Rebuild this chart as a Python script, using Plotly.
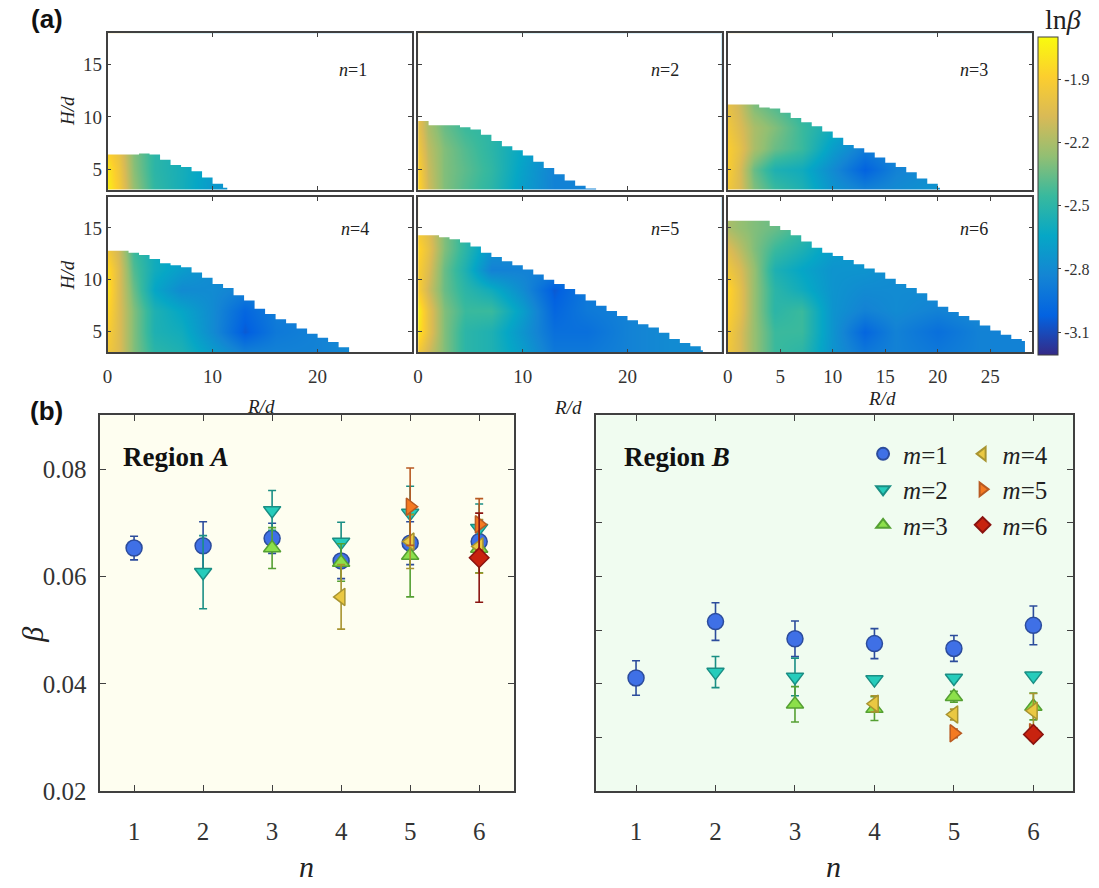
import plotly.graph_objects as go

W, H = 1099, 888
SERIF = "Liberation Serif, Times New Roman, serif"
FRAME = "#404040"

def fx(p):
    return p / W

def fy(p):
    return 1 - p / H

# ---------------- (a) heat maps: ln(beta) over (R/d, H/d) ----------------
R_NODES = [0, 1, 2.5, 4.5, 7, 10, 13, 16, 20, 24, 29]
H_NODES = [3, 5, 7, 9, 11, 13, 15, 18]

LNB_N1 = [
    [-1.75, -1.92, -2.25, -2.48, -2.58, -2.72, -2.80, -2.80, -2.80, -2.80, -2.80],
    [-1.78, -1.95, -2.28, -2.50, -2.58, -2.70, -2.80, -2.80, -2.80, -2.80, -2.80],
    [-1.90, -2.00, -2.30, -2.50, -2.58, -2.70, -2.80, -2.80, -2.80, -2.80, -2.80],
    [-1.90, -2.00, -2.30, -2.50, -2.58, -2.70, -2.80, -2.80, -2.80, -2.80, -2.80],
    [-1.90, -2.00, -2.30, -2.50, -2.58, -2.70, -2.80, -2.80, -2.80, -2.80, -2.80],
    [-1.90, -2.00, -2.30, -2.50, -2.58, -2.70, -2.80, -2.80, -2.80, -2.80, -2.80],
    [-1.90, -2.00, -2.30, -2.50, -2.58, -2.70, -2.80, -2.80, -2.80, -2.80, -2.80],
    [-1.90, -2.00, -2.30, -2.50, -2.58, -2.70, -2.80, -2.80, -2.80, -2.80, -2.80],
]
LNB_N2 = [
    [-1.85, -2.10, -2.30, -2.40, -2.50, -2.70, -2.85, -2.85, -2.85, -2.85, -2.85],
    [-1.88, -2.12, -2.30, -2.38, -2.48, -2.68, -2.85, -2.85, -2.85, -2.85, -2.85],
    [-1.95, -2.15, -2.30, -2.40, -2.50, -2.65, -2.80, -2.80, -2.80, -2.80, -2.80],
    [-2.00, -2.20, -2.35, -2.45, -2.50, -2.60, -2.75, -2.75, -2.75, -2.75, -2.75],
    [-2.00, -2.20, -2.35, -2.45, -2.50, -2.60, -2.75, -2.75, -2.75, -2.75, -2.75],
    [-2.00, -2.20, -2.35, -2.45, -2.50, -2.60, -2.75, -2.75, -2.75, -2.75, -2.75],
    [-2.00, -2.20, -2.35, -2.45, -2.50, -2.60, -2.75, -2.75, -2.75, -2.75, -2.75],
    [-2.00, -2.20, -2.35, -2.45, -2.50, -2.60, -2.75, -2.75, -2.75, -2.75, -2.75],
]
LNB_N3 = [
    [-1.95, -2.05, -2.30, -2.45, -2.55, -2.75, -2.85, -2.80, -2.75, -2.75, -2.75],
    [-1.90, -2.05, -2.35, -2.55, -2.60, -2.80, -3.02, -2.85, -2.78, -2.75, -2.75],
    [-1.90, -2.00, -2.20, -2.35, -2.45, -2.70, -2.88, -2.80, -2.75, -2.75, -2.75],
    [-1.95, -2.05, -2.20, -2.30, -2.45, -2.60, -2.75, -2.75, -2.75, -2.75, -2.75],
    [-2.00, -2.10, -2.30, -2.40, -2.50, -2.60, -2.70, -2.70, -2.70, -2.70, -2.70],
    [-2.00, -2.10, -2.30, -2.40, -2.50, -2.60, -2.70, -2.70, -2.70, -2.70, -2.70],
    [-2.00, -2.10, -2.30, -2.40, -2.50, -2.60, -2.70, -2.70, -2.70, -2.70, -2.70],
    [-2.00, -2.10, -2.30, -2.40, -2.50, -2.60, -2.70, -2.70, -2.70, -2.70, -2.70],
]
LNB_N4 = [
    [-1.95, -2.05, -2.30, -2.50, -2.55, -2.70, -2.85, -2.85, -2.85, -2.80, -2.80],
    [-1.90, -2.05, -2.30, -2.55, -2.60, -2.80, -3.05, -2.90, -2.85, -2.80, -2.80],
    [-1.85, -2.05, -2.30, -2.55, -2.65, -2.80, -3.00, -2.88, -2.85, -2.80, -2.80],
    [-1.80, -2.05, -2.35, -2.65, -2.80, -2.80, -2.85, -2.85, -2.85, -2.85, -2.85],
    [-1.82, -2.05, -2.40, -2.60, -2.70, -2.80, -2.85, -2.85, -2.85, -2.85, -2.85],
    [-1.95, -2.10, -2.45, -2.60, -2.70, -2.80, -2.85, -2.85, -2.85, -2.85, -2.85],
    [-1.95, -2.10, -2.45, -2.60, -2.70, -2.80, -2.85, -2.85, -2.85, -2.85, -2.85],
    [-1.95, -2.10, -2.45, -2.60, -2.70, -2.80, -2.85, -2.85, -2.85, -2.85, -2.85],
]
LNB_N5 = [
    [-1.95, -2.10, -2.30, -2.50, -2.55, -2.70, -2.90, -2.90, -2.85, -2.80, -2.80],
    [-1.78, -2.00, -2.30, -2.50, -2.55, -2.75, -2.95, -2.95, -2.85, -2.80, -2.80],
    [-1.75, -2.00, -2.30, -2.45, -2.45, -2.70, -3.00, -2.90, -2.85, -2.80, -2.80],
    [-1.90, -2.10, -2.35, -2.50, -2.60, -2.80, -3.05, -2.90, -2.85, -2.80, -2.80],
    [-1.90, -2.05, -2.35, -2.55, -2.85, -2.85, -2.85, -2.85, -2.85, -2.85, -2.85],
    [-1.85, -2.00, -2.30, -2.50, -2.75, -2.80, -2.80, -2.80, -2.80, -2.80, -2.80],
    [-1.95, -2.05, -2.30, -2.50, -2.70, -2.80, -2.80, -2.80, -2.80, -2.80, -2.80],
    [-1.95, -2.05, -2.30, -2.50, -2.70, -2.80, -2.80, -2.80, -2.80, -2.80, -2.80],
]
LNB_N6 = [
    [-1.95, -2.05, -2.25, -2.45, -2.50, -2.75, -2.90, -2.85, -2.90, -2.85, -2.85],
    [-1.92, -2.05, -2.25, -2.45, -2.45, -2.75, -3.00, -2.85, -2.95, -2.85, -2.85],
    [-1.88, -2.00, -2.25, -2.50, -2.45, -2.75, -2.85, -2.80, -2.85, -2.80, -2.80],
    [-1.85, -2.00, -2.25, -2.50, -2.60, -2.75, -2.80, -2.80, -2.80, -2.80, -2.80],
    [-1.95, -2.05, -2.25, -2.55, -2.65, -2.75, -2.75, -2.80, -2.80, -2.80, -2.80],
    [-2.05, -2.15, -2.30, -2.45, -2.55, -2.70, -2.75, -2.75, -2.75, -2.75, -2.75],
    [-2.20, -2.25, -2.30, -2.35, -2.45, -2.60, -2.70, -2.70, -2.70, -2.70, -2.70],
    [-2.20, -2.25, -2.30, -2.35, -2.45, -2.60, -2.70, -2.70, -2.70, -2.70, -2.70],
]

# upper edge of the measured domain (H/d max) at R/d = 0,1,2,...; and last R/d
EDGE_N1 = [6.4, 6.4, 6.4, 6.5, 6.4, 5.9, 5.4, 5.2, 4.8, 4.2, 3.6, 3.2]
END_N1 = 11.4
EDGE_N2 = [9.6, 9.2, 9.2, 9.2, 9.0, 8.8, 8.3, 7.7, 7.2, 6.8, 6.3, 5.7, 5.1, 4.5, 3.9,
           3.4, 3.15]
END_N2 = 17.0
EDGE_N3 = [11.2, 11.2, 11.2, 10.9, 10.8, 10.4, 9.9, 9.5, 9.1, 8.6, 8.0, 7.3, 7.0, 6.6,
           6.1, 5.6, 5.2, 4.7, 4.1, 3.6, 3.2]
END_N3 = 20.2
EDGE_N4 = [12.8, 12.8, 12.6, 12.4, 12.0, 11.6, 11.4, 11.2, 10.7, 10.2, 9.6, 9.2, 8.5,
           8.0, 7.2, 6.7, 6.2, 5.8, 5.3, 4.8, 4.4, 4.0, 3.5]
END_N4 = 23.0
EDGE_N5 = [14.3, 14.3, 14.1, 13.9, 13.6, 13.2, 12.6, 12.2, 11.8, 11.4, 11.0, 10.5, 10.0,
           9.6, 9.1, 8.6, 8.0, 7.5, 7.0, 6.5, 6.1, 5.7, 5.4, 4.9, 4.3, 3.9, 3.6, 3.2]
END_N5 = 27.2
EDGE_N6 = [15.7, 15.7, 15.7, 15.7, 15.2, 14.8, 14.3, 13.7, 13.1, 12.6, 12.3, 11.9, 11.5,
           11.1, 10.7, 10.1, 9.6, 9.2, 8.7, 8.0, 7.4, 6.9, 6.5, 6.1, 5.6, 5.1, 4.7, 4.3,
           4.1]
END_N6 = 28.3

PANEL_LABELS = ["n=1", "n=2", "n=3", "n=4", "n=5", "n=6"]
CB_TICKS = [-3.1, -2.8, -2.5, -2.2, -1.9]
CB_MIN, CB_MAX = -3.21, -1.70

PARULA = [[0.0, "#352a87"], [0.125, "#0363e1"], [0.25, "#1485d4"], [0.375, "#06a7c6"],
          [0.5, "#38b99e"], [0.625, "#92bf73"], [0.75, "#d9ba56"], [0.875, "#fcce2e"],
          [1.0, "#f9fb0e"]]

# ---------------- (b) beta vs n ----------------
N_VALUES = [1, 2, 3, 4, 5, 6]
M_LABELS = ["m=1", "m=2", "m=3", "m=4", "m=5", "m=6"]

# Region A: (n values, beta, error)
A_M1_N = [1, 2, 3, 4, 5, 6]
A_M1 = [0.0653, 0.0657, 0.0671, 0.0629, 0.0662, 0.0665]
A_M1_E = [0.0022, 0.0045, 0.0028, 0.0033, 0.0040, 0.0040]
A_M2_N = [2, 3, 4, 5, 6]
A_M2 = [0.0608, 0.0723, 0.0664, 0.0718, 0.0690]
A_M2_E = [0.0068, 0.0037, 0.0037, 0.0050, 0.0045]
A_M3_N = [3, 4, 5, 6]
A_M3 = [0.0653, 0.0626, 0.0639, 0.0652]
A_M3_E = [0.0038, 0.0035, 0.0077, 0.0045]
A_M4_N = [4, 5, 6]
A_M4 = [0.0562, 0.0665, 0.0656]
A_M4_E = [0.0060, 0.0050, 0.0050]
A_M5_N = [5, 6]
A_M5 = [0.0730, 0.0697]
A_M5_E = [0.0072, 0.0048]
A_M6_N = [6]
A_M6 = [0.0635]
A_M6_E = [0.0083]

# Region B
B_M1_N = [1, 2, 3, 4, 5, 6]
B_M1 = [0.0411, 0.0516, 0.0484, 0.0475, 0.0466, 0.0509]
B_M1_E = [0.0032, 0.0035, 0.0033, 0.0028, 0.0024, 0.0036]
B_M2_N = [2, 3, 4, 5, 6]
B_M2 = [0.0422, 0.0413, 0.0408, 0.0411, 0.0415]
B_M2_E = [0.0029, 0.0035, 0.0005, 0.0006, 0.0005]
B_M3_N = [3, 4, 5, 6]
B_M3 = [0.0362, 0.0354, 0.0376, 0.0358]
B_M3_E = [0.0033, 0.0022, 0.0010, 0.0025]
B_M4_N = [4, 5, 6]
B_M4 = [0.0363, 0.0343, 0.0350]
B_M4_E = [0.0015, 0.0010, 0.0032]
B_M5_N = [5, 6]
B_M5 = [0.0308, 0.0310]
B_M5_E = [0.0008, 0.0008]
B_M6_N = [6]
B_M6 = [0.0306]
B_M6_E = [0.0010]

SYMBOLS = ["circle", "triangle-down", "triangle-up", "triangle-left", "triangle-right",
           "diamond"]
FILLS = ["#3f70e6", "#26ccbb", "#8ce04a", "#eac842", "#f47a22", "#c8230f"]
EDGES = ["#2c4c9c", "#1a8e84", "#55a033", "#a89430", "#b85a22", "#8a1410"]

fig = go.Figure()

# panel geometry (pixels)
COLS = [(103, 409), (415, 720), (726, 1032)]
ROWS = [(34, 193), (200, 358)]
fields = [LNB_N1, LNB_N2, LNB_N3, LNB_N4, LNB_N5, LNB_N6]
edges = [EDGE_N1, EDGE_N2, EDGE_N3, EDGE_N4, EDGE_N5, EDGE_N6]
ends = [END_N1, END_N2, END_N3, END_N4, END_N5, END_N6]

layout = {}
for k in range(6):
    row, col = divmod(k, 3)
    ax = "" if k == 0 else str(k + 1)
    xa, ya = "x" + ax, "y" + ax
    fig.add_trace(go.Heatmap(x=R_NODES, y=H_NODES, z=fields[k], zsmooth="best",
                             coloraxis="coloraxis", xaxis=xa, yaxis=ya,
                             hoverinfo="skip"))
    # white mask above the stepped upper edge of the domain
    e = edges[k]
    mx, my = [-1.0, -1.0], [19.0, e[0]]
    for i, h in enumerate(e):
        r0 = -1.0 if i == 0 else float(i)
        r1 = float(i + 1) if i + 1 < len(e) else ends[k]
        mx += [r0, r1]
        my += [h, h]
    mx += [ends[k], 30.0, 30.0, -1.0]
    my += [2.0, 2.0, 19.0, 19.0]
    fig.add_trace(go.Scatter(x=mx, y=my, mode="lines", fill="toself",
                             fillcolor="white", line=dict(width=0, color="white"),
                             xaxis=xa, yaxis=ya, hoverinfo="skip", showlegend=False))
    x0, x1 = COLS[col]
    y0, y1 = ROWS[row]
    xt = [0, 5, 10, 15, 20, 25] if k == 5 else [0, 10, 20]
    layout["xaxis" + ax] = dict(
        domain=[fx(x0), fx(x1)], range=[0, 29], anchor=ya, tickvals=xt,
        showticklabels=(row == 1), ticks="inside", ticklen=4, tickcolor=FRAME,
        showline=True, linecolor=FRAME, linewidth=1.5, mirror="allticks",
        showgrid=False, zeroline=False, ticklabelstandoff=6,
        tickfont=dict(family=SERIF, size=19, color="#333"))
    layout["yaxis" + ax] = dict(
        domain=[fy(y1), fy(y0)], range=[3, 18], anchor=xa, tickvals=[5, 10, 15],
        showticklabels=(col == 0), ticks="inside", ticklen=4, tickcolor=FRAME,
        showline=True, linecolor=FRAME, linewidth=1.5, mirror="allticks",
        showgrid=False, zeroline=False,
        tickfont=dict(family=SERIF, size=19, color="#333"))

# ---------------- bottom panels ----------------
A_SETS = [(A_M1_N, A_M1, A_M1_E), (A_M2_N, A_M2, A_M2_E), (A_M3_N, A_M3, A_M3_E),
          (A_M4_N, A_M4, A_M4_E), (A_M5_N, A_M5, A_M5_E), (A_M6_N, A_M6, A_M6_E)]
B_SETS = [(B_M1_N, B_M1, B_M1_E), (B_M2_N, B_M2, B_M2_E), (B_M3_N, B_M3, B_M3_E),
          (B_M4_N, B_M4, B_M4_E), (B_M5_N, B_M5, B_M5_E), (B_M6_N, B_M6, B_M6_E)]

for panel, sets in (("7", A_SETS), ("8", B_SETS)):
    for j, (nx, yv, ev) in enumerate(sets):
        fig.add_trace(go.Scatter(
            x=nx, y=yv, mode="markers", name="<i>m</i>=" + M_LABELS[j][2:],
            xaxis="x" + panel, yaxis="y" + panel,
            marker=dict(symbol=SYMBOLS[j], size=15 if j else 16, color=FILLS[j],
                        line=dict(color=EDGES[j], width=1.5)),
            error_y=dict(type="data", array=ev, visible=True, color=EDGES[j],
                         thickness=1.6, width=4),
            showlegend=(panel == "8"),
            legend="legend" if j < 3 else "legend2",
            hoverinfo="skip"))

BOT_Y = (422, 804)
for panel, (x0, x1), dt, lab in (("7", (95, 511), 0.02, True),
                                  ("8", (594, 1073), 0.01, False)):
    layout["xaxis" + panel] = dict(
        domain=[fx(x0), fx(x1)], range=[0.5, 6.5], anchor="y" + panel,
        tickvals=N_VALUES, ticks="inside", ticklen=6, tickcolor=FRAME,
        showline=True, linecolor=FRAME, linewidth=2, mirror="allticks",
        showgrid=False, zeroline=False, ticklabelstandoff=17,
        tickfont=dict(family=SERIF, size=25, color="#333"))
    layout["yaxis" + panel] = dict(
        domain=[fy(BOT_Y[1]), fy(BOT_Y[0])], range=[0.02, 0.09], anchor="x" + panel,
        tick0=0.02, dtick=dt, tickformat=".2f", showticklabels=lab,
        ticks="inside", ticklen=6, tickcolor=FRAME,
        showline=True, linecolor=FRAME, linewidth=2, mirror="allticks",
        showgrid=False, zeroline=False, ticklabelstandoff=6,
        tickfont=dict(family=SERIF, size=25, color="#333"))

shapes = [
    dict(type="rect", xref="x7 domain", yref="y7 domain", x0=0, x1=1, y0=0, y1=1,
         fillcolor="#fefef0", line=dict(width=0), layer="below"),
    dict(type="rect", xref="x8 domain", yref="y8 domain", x0=0, x1=1, y0=0, y1=1,
         fillcolor="#f0fcf0", line=dict(width=0), layer="below"),
]

annotations = []

def ann(text, x, y, size, angle=0, xanchor="center", family=SERIF, color="#222"):
    annotations.append(dict(text=text, x=fx(x), y=fy(y), xref="paper", yref="paper",
                            showarrow=False, textangle=angle, xanchor=xanchor,
                            yanchor="middle",
                            font=dict(family=family, size=size, color=color)))

ann("<b>(a)</b>", 42, 19, 26, family="Liberation Sans, Arial, sans-serif", color="#111")
ann("<b>(b)</b>", 42, 418, 26, family="Liberation Sans, Arial, sans-serif", color="#111")
label_pos = [(350, 71), (663, 71), (973, 71), (352, 233), (663, 233), (973, 233)]
for k, (x, y) in enumerate(label_pos):
    ann("<i>n</i>=" + PANEL_LABELS[k][2:], x, y, 18)
ann("<i>H/d</i>", 63, 113, 19, angle=-90)
ann("<i>H/d</i>", 63, 280, 19, angle=-90)
ann("<i>R/d</i>", 257, 413, 19)
ann("<i>R/d</i>", 566, 414, 19)
ann("<i>R/d</i>", 881, 405, 19)
ann("ln<i>β</i>", 1063, 20, 28)
ann("<b>Region <i>A</i></b>", 117, 464, 27, xanchor="left", color="#111")
ann("<b>Region <i>B</i></b>", 620, 464, 27, xanchor="left", color="#111")
ann("<i>n</i>", 303, 880, 30)
ann("<i>n</i>", 832, 880, 30)
ann("<i>β</i>", 28, 645, 30, angle=-90)

legend_common = dict(bgcolor="rgba(0,0,0,0)", borderwidth=0, xanchor="left",
                     yanchor="top", tracegroupgap=0, itemsizing="constant",
                     font=dict(family=SERIF, size=25, color="#222"))

fig.update_layout(
    width=W, height=H, margin=dict(l=0, r=0, t=0, b=0, pad=0),
    paper_bgcolor="white", plot_bgcolor="white",
    coloraxis=dict(colorscale=PARULA, cmin=CB_MIN, cmax=CB_MAX,
                   colorbar=dict(x=fx(1038), xanchor="left", y=fy(361),
                                 yanchor="bottom", len=(361 - 38) / H,
                                 lenmode="fraction", thickness=20,
                                 thicknessmode="pixels", xpad=0, ypad=0,
                                 tickvals=CB_TICKS, ticktext=[str(v) for v in CB_TICKS],
                                 ticks="outside", ticklen=3, tickcolor=FRAME,
                                 outlinewidth=1, outlinecolor=FRAME,
                                 tickfont=dict(family=SERIF, size=16, color="#333"))),
    legend=dict(x=fx(862), y=fy(438), **legend_common),
    legend2=dict(x=fx(962), y=fy(438), **legend_common),
    shapes=shapes, annotations=annotations, showlegend=True,
    **layout)

fig.write_html("out.html")
